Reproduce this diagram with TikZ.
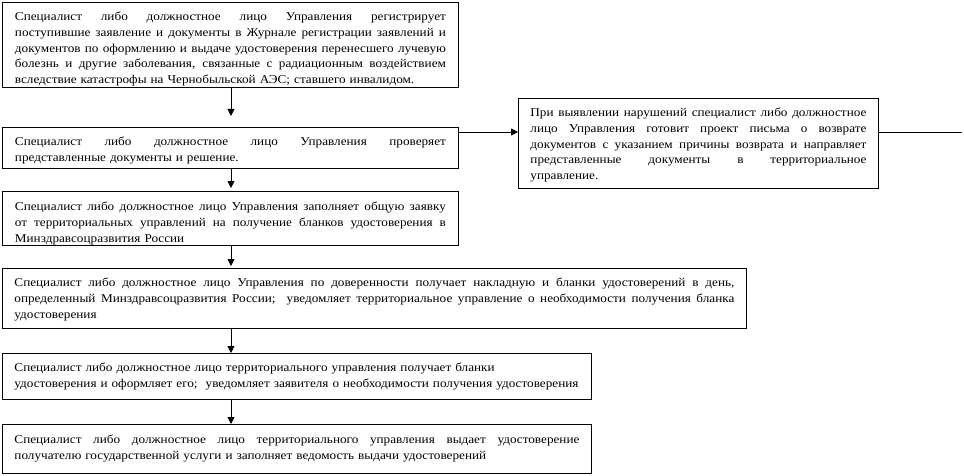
\documentclass[tikz,border=0pt]{standalone}
\usepackage{fontspec}
\setmainfont{Liberation Serif}[FakeStretch=1.1]
\usetikzlibrary{arrows.meta}
\setlength\parindent{0pt}
\newlength\tw
\newcommand\J[1]{\leavevmode\hbox to \tw{\spaceskip=0pt\relax\xspaceskip=0pt\relax #1}}
\begin{document}
\begin{tikzpicture}[x=1pt,y=-1pt,
  box/.style={draw, line width=0.9pt, anchor=north west, inner xsep=12pt, inner ysep=0pt,
    align=left, font=\fontsize{12}{15.8}\selectfont, text width=#1,
    execute at begin node={\setlength\tw{#1}}},
  arr/.style={line width=0.9pt, -{Triangle[length=7pt,width=7pt]}},
  ln/.style={line width=0.9pt}]
\useasboundingbox (0,0) rectangle (964,476);

\node[box=431pt, minimum width=456pt, text height=18pt, text depth=67pt] (b1) at (2,2)
{\J{Специалист либо должностное лицо Управления регистрирует}\\
 \J{поступившие заявление и документы в Журнале регистрации заявлений и}\\
 \J{документов по оформлению и выдаче удостоверения перенесшего лучевую}\\
 \J{болезнь и другие заболевания, связанные с радиационным воздействием}\\
 вследствие катастрофы на Чернобыльской АЭС; ставшего инвалидом.};

\node[box=431pt, minimum width=456pt, text height=18.5pt, text depth=22.5pt] (b2) at (2,127)
{\J{Специалист либо должностное лицо Управления проверяет}\\
 представленные документы и решение.};

\node[box=336pt, minimum width=360pt, text height=18pt, text depth=72pt] (rb) at (518,98)
{\J{При выявлении нарушений специалист либо должностное}\\
 \J{лицо Управления готовит проект письма о возврате}\\
 \J{документов с указанием причины возврата и направляет}\\
 \J{представленные документы в территориальное}\\
 управление.};

\node[box=431pt, minimum width=456pt, text height=19pt, text depth=35pt] (b4) at (2,191)
{\J{Специалист либо должностное лицо Управления заполняет общую заявку}\\
 \J{от территориальных управлений на получение бланков удостоверения в}\\
 Минздравсоцразвития России};

\node[box=720pt, minimum width=744pt, text height=18pt, text depth=42pt] (b5) at (2,268)
{\J{Специалист либо должностное лицо Управления по доверенности получает накладную и бланки удостоверений в день,}\\
 \J{определенный Минздравсоцразвития России;\ \ уведомляет территориальное управление о необходимости получения бланка}\\
 удостоверения};

\node[box=565pt, minimum width=589pt, text height=18pt, text depth=28pt] (b6) at (2,353)
{Специалист либо должностное лицо территориального управления получает бланки\\
 удостоверения и оформляет его;\ \ уведомляет заявителя о необходимости получения удостоверения};

\node[box=565pt, minimum width=589pt, text height=19.5pt, text depth=29.5pt] (b7) at (2,424)
{\J{Специалист либо должностное лицо территориального управления выдает удостоверение}\\
 получателю государственной услуги и заполняет ведомость выдачи удостоверений};

\coordinate (ax) at (231,0);
\draw[arr, shorten >=11pt] (b1.south -| ax) -- (b2.north -| ax);
\draw[arr, shorten >=3pt] (b2.south -| ax) -- (b4.north -| ax);
\draw[arr, shorten >=2pt] (b4.south -| ax) -- (b5.north -| ax);
\draw[arr] (b5.south -| ax) -- (b6.north -| ax);
\draw[arr] (b6.south -| ax) -- (b7.north -| ax);

\coordinate (h1) at ([yshift=-5pt]b2.north east);
\draw[arr] (h1) -- (h1 -| rb.west);
\coordinate (edge) at (962,0);
\draw[ln] (h1 -| rb.east) -- (h1 -| edge);
\end{tikzpicture}
\end{document}
